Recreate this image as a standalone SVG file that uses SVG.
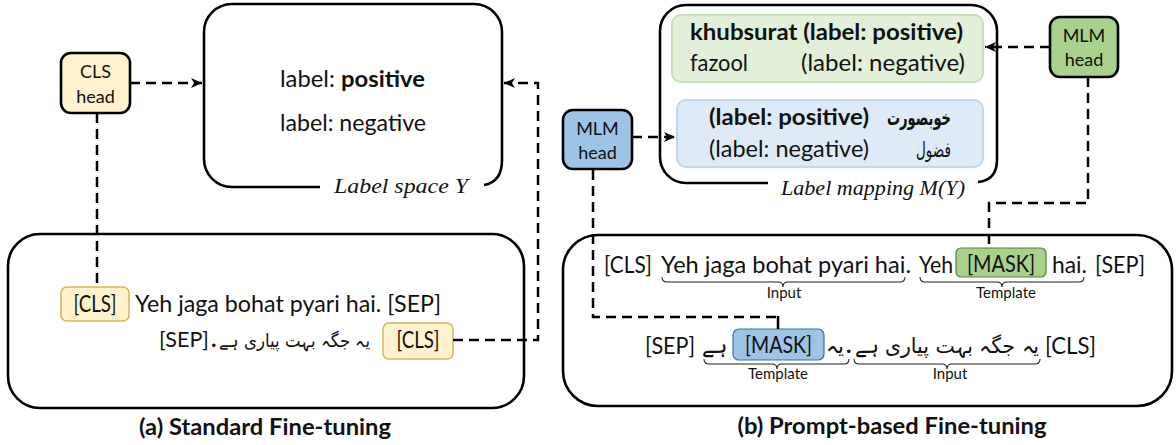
<svg xmlns="http://www.w3.org/2000/svg" width="1176" height="445" viewBox="0 0 1176 445">
<defs>
<marker id="arr" markerUnits="userSpaceOnUse" markerWidth="14" markerHeight="12" refX="12" refY="6" orient="auto">
<path d="M1,1 L12,6 L1,11 L4,6 Z" fill="#000"/>
</marker>
<style>
text{font-family:Lato,"Open Sans","DejaVu Sans",sans-serif;fill:#111}
.t{font-size:23px}
.b{font-weight:bold}
.h{font-size:18px;text-anchor:middle}
.s{font-size:15px;text-anchor:middle}
.u{font-family:"DejaVu Sans",sans-serif;font-size:21px}
.it{font-family:"Liberation Serif",serif;font-style:italic;font-size:21px}
.cap{font-size:22px;font-weight:bold;text-anchor:middle}
.frame{fill:none;stroke:#000;stroke-width:2.6}
.head{stroke:#000;stroke-width:2.6}
.dash{fill:none;stroke:#000;stroke-width:2.5;stroke-dasharray:10 6}
.brace{fill:none;stroke:#222;stroke-width:1.1}
</style>
</defs>

<!-- (a) Standard fine-tuning -->
<g id="label-space">
<path class="frame" d="M320,187 L232,187 A28,28 0 0 1 204,159 L204,32 A28,28 0 0 1 232,4 L474,4 A28,28 0 0 1 502,32 L502,160 Q502,182 484,185"/>
<text class="t" x="280" y="87" textLength="145" lengthAdjust="spacingAndGlyphs">label: <tspan class="b">positive</tspan></text>
<text class="t" x="280" y="131" textLength="146" lengthAdjust="spacingAndGlyphs">label: negative</text>
<text class="it" x="334" y="193" textLength="134" lengthAdjust="spacingAndGlyphs">Label space Y</text>
</g>

<g id="cls-head">
<rect class="head" x="61" y="53" width="69" height="60" rx="10" fill="#FFF2CC"/>
<text class="h" x="95.5" y="78">CLS</text>
<text class="h" x="95.5" y="103">head</text>
</g>

<g id="input-a">
<rect class="frame" x="8" y="234" width="516" height="174" rx="32"/>
<rect x="61" y="287" width="68" height="34" rx="6" fill="#FFF2CC" stroke="#D6B656" stroke-width="1.5"/>
<text class="t" x="95" y="312" text-anchor="middle" textLength="43" lengthAdjust="spacingAndGlyphs">[CLS]</text>
<text class="t" x="135" y="312" textLength="306" lengthAdjust="spacingAndGlyphs">Yeh jaga bohat pyari hai. [SEP]</text>
<text class="t" x="159" y="347" style="font-size:21.5px">[SEP]</text>
<text class="t b" x="211" y="347">.</text>
<text class="u" x="219" y="347" style="font-size:18.4px" textLength="151" lengthAdjust="spacingAndGlyphs">یہ جگہ بہت پیاری ہے</text>
<rect x="383" y="323" width="70" height="36" rx="6" fill="#FFF2CC" stroke="#D6B656" stroke-width="1.5"/>
<text class="t" x="418" y="348" text-anchor="middle" textLength="43" lengthAdjust="spacingAndGlyphs">[CLS]</text>
</g>

<text class="cap" x="265" y="435" textLength="252" lengthAdjust="spacingAndGlyphs">(a) Standard Fine-tuning</text>

<!-- (b) Prompt-based fine-tuning -->
<g id="label-mapping">
<path class="frame" d="M768,183 L686,183 A26,26 0 0 1 660,157 L660,31 A26,26 0 0 1 686,5 L971,5 A26,26 0 0 1 997,31 L997,160 Q997,180 978,182"/>
<rect x="672" y="15" width="311" height="67" rx="9" fill="#E2F0D9" stroke="#C5E0B4" stroke-width="2"/>
<text class="t b" x="690" y="40" textLength="273" lengthAdjust="spacingAndGlyphs">khubsurat (label: positive)</text>
<text class="t" x="690" y="71" textLength="58" lengthAdjust="spacingAndGlyphs">fazool</text>
<text class="t" x="801" y="71" textLength="164" lengthAdjust="spacingAndGlyphs">(label: negative)</text>
<rect x="677" y="100" width="306" height="67" rx="9" fill="#DEEBF7" stroke="#BDD7EE" stroke-width="2"/>
<text class="t b" x="709" y="125" textLength="160" lengthAdjust="spacingAndGlyphs">(label: positive)</text>
<text class="u b" x="887" y="125" textLength="64" lengthAdjust="spacingAndGlyphs">خوبصورت</text>
<text class="t" x="709" y="157" textLength="160" lengthAdjust="spacingAndGlyphs">(label: negative)</text>
<text class="u" x="916" y="157" textLength="35" lengthAdjust="spacingAndGlyphs">فضول</text>
<text class="it" x="781" y="195" textLength="184" lengthAdjust="spacingAndGlyphs">Label mapping M(Y)</text>
</g>

<g id="mlm-head-green">
<rect class="head" x="1050" y="17" width="68" height="60" rx="10" fill="#A9D18E"/>
<text class="h" x="1084" y="42">MLM</text>
<text class="h" x="1084" y="66">head</text>
</g>

<g id="mlm-head-blue">
<rect class="head" x="563" y="110" width="69" height="59" rx="10" fill="#9DC3E6"/>
<text class="h" x="597.5" y="135">MLM</text>
<text class="h" x="597.5" y="159">head</text>
</g>

<g id="input-b">
<rect class="frame" x="563" y="235" width="609" height="171" rx="35"/>
<text class="t" x="604" y="273" textLength="48" lengthAdjust="spacingAndGlyphs">[CLS]</text>
<text class="t" x="661" y="273" textLength="250" lengthAdjust="spacingAndGlyphs">Yeh jaga bohat pyari hai.</text>
<text class="t" x="919" y="273" textLength="34" lengthAdjust="spacingAndGlyphs">Yeh</text>
<rect x="956" y="248" width="90" height="29" rx="5" fill="#A9D18E" stroke="#548235" stroke-width="1.2"/>
<text class="t" x="1001" y="272" text-anchor="middle" textLength="68" lengthAdjust="spacingAndGlyphs">[MASK]</text>
<text class="t" x="1052" y="273" textLength="35" lengthAdjust="spacingAndGlyphs">hai.</text>
<text class="t" x="1095" y="273" textLength="50" lengthAdjust="spacingAndGlyphs">[SEP]</text>
<path class="brace" d="M662,277 q0,5 5,5 L778,282 q5,0 5,5 q0,-5 5,-5 L900,282 q5,0 5,-5"/>
<text class="s" x="784" y="298">Input</text>
<path class="brace" d="M920,277 q0,5 5,5 L997,282 q5,0 5,5 q0,-5 5,-5 L1079,282 q5,0 5,-5"/>
<text class="s" x="1006" y="298">Template</text>

<text class="t" x="645" y="354" textLength="50" lengthAdjust="spacingAndGlyphs">[SEP]</text>
<text class="u" x="702" y="353" textLength="25" lengthAdjust="spacingAndGlyphs" style="font-size:22px">ہے</text>
<rect x="733" y="329" width="91" height="31" rx="6" fill="#9DC3E6" stroke="#41719C" stroke-width="1.2"/>
<text class="t" x="778.5" y="353" text-anchor="middle" textLength="67" lengthAdjust="spacingAndGlyphs">[MASK]</text>
<text class="u" x="826" y="353" textLength="18" lengthAdjust="spacingAndGlyphs" style="font-size:21px">یہ</text>
<text class="t b" x="846" y="353">.</text>
<text class="u" x="855" y="353" textLength="184" lengthAdjust="spacingAndGlyphs" style="font-size:21px">یہ جگہ بہت پیاری ہے</text>
<text class="t" x="1045" y="354" textLength="51" lengthAdjust="spacingAndGlyphs">[CLS]</text>
<path class="brace" d="M704,359 q0,5 5,5 L772,364 q5,0 5,5 q0,-5 5,-5 L844,364 q5,0 5,-5"/>
<text class="s" x="778" y="379">Template</text>
<path class="brace" d="M854,359 q0,5 5,5 L942,364 q5,0 5,5 q0,-5 5,-5 L1035,364 q5,0 5,-5"/>
<text class="s" x="950" y="379">Input</text>
</g>

<text class="cap" x="892" y="434" textLength="309" lengthAdjust="spacingAndGlyphs">(b) Prompt-based Fine-tuning</text>

<g id="connectors">
<line class="dash" x1="130" y1="83" x2="202" y2="83" marker-end="url(#arr)"/>
<line class="dash" x1="97" y1="113" x2="97" y2="287"/>
<polyline class="dash" points="453,340 538,340 538,83 504,83" marker-end="url(#arr)"/>
<line class="dash" x1="1050" y1="47" x2="985" y2="47" marker-end="url(#arr)"/>
<line class="dash" x1="632" y1="137" x2="675" y2="137" marker-end="url(#arr)"/>
<polyline class="dash" points="1088,77 1088,203 989,203 989,248"/>
<polyline class="dash" points="593,170 593,317 778,317"/>
<line x1="778" y1="316" x2="778" y2="329" stroke="#000" stroke-width="2.5"/>
</g>
</svg>
